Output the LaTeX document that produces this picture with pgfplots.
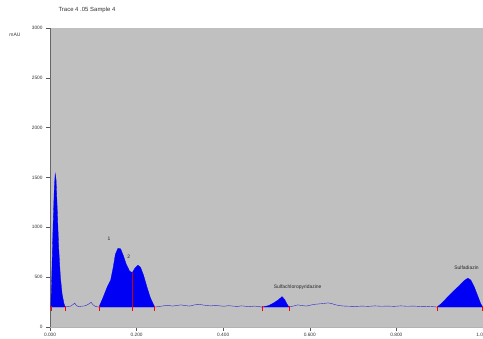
\documentclass[border=0pt]{standalone}
\usepackage{pgfplots}
\pgfplotsset{compat=1.18}
\usepackage{fontspec}
\setmainfont{Liberation Sans}
\definecolor{bg}{RGB}{192,192,192}
\definecolor{pk}{RGB}{0,0,245}
\begin{document}
\begin{tikzpicture}[x=1bp,y=1bp]
\useasboundingbox (-50,-11) rectangle (433,327);
\begin{axis}[
  at={(0,0)}, anchor=south west,
  scale only axis, width=433bp, height=299bp,
  xmin=0, xmax=1, ymin=0, ymax=3000,
  axis background/.style={fill=bg},
  axis x line=bottom, axis y line=left,
  axis line style={draw=gray!80!black, -},
  x axis line style={draw=gray!60},
  tick align=outside, major tick length=4bp,
  tick style={draw=gray!70!black, thin},
  xtick={0,0.2,0.4,0.6,0.8,1.0},
  xticklabels={0.000,0.200,0.400,0.600,0.800,\llap{1.0}},
  ytick={0,500,1000,1500,2000,2500,3000},
  yticklabels={0,500,1000,1500,2000,2500,3000},
  ticklabel style={font=\fontsize{4.8}{5.5}\selectfont, text=gray!40!black},
  xticklabel style={yshift=1bp},
  /pgf/number format/assume math mode=true,
  clip=false,
]
% filled peaks
\addplot[fill=pk, draw=pk, line width=0.3pt] coordinates {(0.002,200)(0.004,500)(0.007,1000)(0.010,1400)(0.012,1540)(0.014,1480)(0.017,1150)(0.020,800)(0.024,500)(0.028,330)(0.032,240)(0.035,200)} -- cycle;
\addplot[fill=pk, draw=pk, line width=0.3pt] coordinates {(0.113,200)(0.122,290)(0.132,400)(0.140,470)(0.146,600)(0.151,730)(0.157,790)(0.163,785)(0.169,720)(0.176,630)(0.184,560)(0.190,545)(0.196,590)(0.203,620)(0.209,600)(0.216,520)(0.224,400)(0.232,290)(0.242,200)} -- cycle;
\addplot[fill=pk, draw=pk, line width=0.3pt] coordinates {(0.490,200)(0.505,215)(0.518,245)(0.528,275)(0.536,305)(0.542,275)(0.548,225)(0.552,200)} -- cycle;
\addplot[fill=pk, draw=pk, line width=0.3pt] coordinates {(0.894,200)(0.905,240)(0.918,300)(0.932,360)(0.946,420)(0.958,470)(0.965,490)(0.972,470)(0.980,400)(0.988,310)(0.995,230)(1.000,200)} -- cycle;
% baseline trace
\addplot[pk!70!gray, line width=0.4pt] coordinates {
(0.035,200)(0.040,205)(0.048,210)(0.053,225)(0.057,240)(0.061,215)(0.066,205)(0.072,208)(0.080,212)(0.086,222)(0.091,235)(0.095,248)(0.099,225)(0.104,208)(0.110,202)(0.113,200)};
\addplot[pk!70!gray, line width=0.4pt] coordinates {
(0.242,200)(0.250,205)(0.262,212)(0.272,218)(0.282,210)(0.292,215)(0.302,222)(0.312,215)(0.322,210)(0.332,220)(0.342,228)(0.352,222)(0.362,215)(0.372,212)(0.382,218)(0.392,212)(0.402,208)(0.412,214)(0.422,210)(0.432,206)(0.442,212)(0.452,208)(0.462,204)(0.472,210)(0.482,205)(0.490,200)};
\addplot[pk!70!gray, line width=0.4pt] coordinates {
(0.552,200)(0.562,210)(0.572,222)(0.582,215)(0.592,210)(0.602,220)(0.612,228)(0.622,232)(0.632,236)(0.642,242)(0.650,236)(0.660,222)(0.670,214)(0.680,210)(0.692,208)(0.705,206)(0.720,210)(0.735,207)(0.750,212)(0.765,208)(0.780,210)(0.795,207)(0.810,212)(0.825,208)(0.840,210)(0.855,206)(0.870,208)(0.885,204)(0.894,200)};
% integration marks
\addplot[red, only marks, mark=|, mark size=2.2pt, mark options={line width=0.8pt}] coordinates {
(0.004,185)(0.035,185)(0.113,185)(0.190,185)(0.242,185)(0.490,185)(0.552,185)(0.894,185)(0.998,185)};
\addplot[red!80!black, line width=0.8pt] coordinates {(0.190,200)(0.190,545)};
\node[font=\fontsize{5}{6}\selectfont, text=gray!30!black] at (axis cs:0.136,885) {1};
\node[font=\fontsize{5}{6}\selectfont, text=gray!30!black] at (axis cs:0.182,705) {2};
\node[font=\fontsize{5}{6}\selectfont, text=gray!30!black] at (axis cs:0.572,400) {Sulfachloropyridazine};
\node[font=\fontsize{5}{6}\selectfont, text=gray!30!black] at (axis cs:0.962,590) {Sulfadiazin};
\end{axis}
\node[font=\fontsize{6}{7}\selectfont, text=gray!40!black] at (37,317) {Trace 4 .05 Sample 4};
\node[font=\fontsize{5}{6}\selectfont, text=gray!40!black] at (-35,292) {mAU};
\end{tikzpicture}
\end{document}
